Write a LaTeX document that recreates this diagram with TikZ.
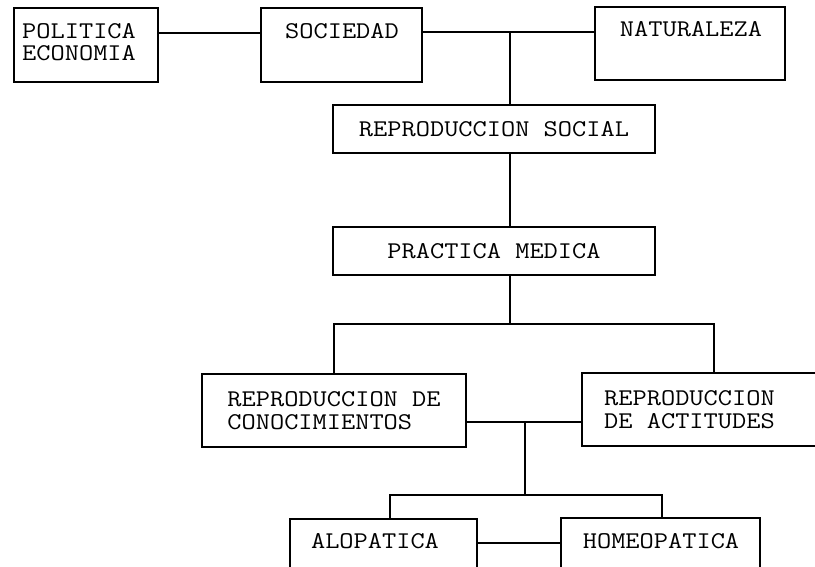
\documentclass[tikz,border=0pt]{standalone}
\usepackage{fontspec}
\newfontfamily\tw{Latin Modern Mono}[FakeStretch=1.15]
\begin{document}
\begin{tikzpicture}[x=1pt,y=-1pt,
  box/.style={draw, line width=1.2pt, inner sep=0pt, rectangle},
  lbl/.style={inner sep=0pt, font=\tw\fontsize{24}{22}\selectfont},
  conn/.style={line width=1.2pt}]
\useasboundingbox (0,0) rectangle (815,567);
\clip (0,0) rectangle (815,567);
% boxes
\node[box, minimum width=144pt, minimum height=74pt] (pol) at (86,45) {};
\node[box, minimum width=161pt, minimum height=74pt] (soc) at (341.5,45) {};
\node[box, minimum width=190pt, minimum height=73pt] (nat) at (690,43.5) {};
\node[box, minimum width=322pt, minimum height=48pt, font=\tw\fontsize{24}{22}\selectfont] (rs) at (494,129) {REPRODUCCION SOCIAL};
\node[box, minimum width=322pt, minimum height=48pt, font=\tw\fontsize{24}{22}\selectfont] (pm) at (494,251) {PRACTICA MEDICA};
\node[box, minimum width=264pt, minimum height=73pt, align=left, font=\tw\fontsize{24}{23}\selectfont] (con) at (334,410.5) {REPRODUCCION DE\\CONOCIMIENTOS};
\node[box, minimum width=238pt, minimum height=73pt] (act) at (701,409.5) {};
\node[box, minimum width=187pt, minimum height=76pt] (alo) at (383.5,557) {};
\node[box, minimum width=199pt, minimum height=76pt] (hom) at (660.5,556) {};
% texts
\node[lbl, anchor=west, align=left] (tpol) at (22,42) {POLITICA\\ECONOMIA};
\node[lbl] (tsoc) at (342,31) {SOCIEDAD};
\node[lbl] (tnat) at (691,29) {NATURALEZA};
\node[lbl, anchor=west, align=left, font=\tw\fontsize{24}{23}\selectfont] (tact) at (604,409.5) {REPRODUCCION\\DE ACTITUDES};
\node[lbl] (talo) at (375,541) {ALOPATICA};
\node[lbl] (thom) at (661,541) {HOMEOPATICA};
% junction coordinates
\coordinate (j0) at (210,33);
\coordinate (j1) at (510,32);
\coordinate (j2) at (510,324);
\coordinate (j3) at (714,324);
\coordinate (j4) at (525,422);
\coordinate (j5) at (525,495);
\coordinate (a1) at (390,495);
\coordinate (a2) at (662,495);
\coordinate (j6) at (520,543);
% connectors
\draw[conn] (pol.east |- j0) -- (soc.west |- j0);
\draw[conn] (soc.east |- j1) -- (nat.west |- j1);
\draw[conn] (j1) -- (j1 |- rs.north);
\draw[conn] (j1 |- rs.south) -- (j1 |- pm.north);
\draw[conn] (j2 |- pm.south) -- (j2);
\draw[conn] (con.north) |- (j3) -- (j3 |- act.north);
\draw[conn] (con.east |- j4) -- (act.west |- j4);
\draw[conn] (j4) -- (j5);
\draw[conn] (a1 |- alo.north) -- (a1) -- (a2) -- (a2 |- hom.north);
\draw[conn] (alo.east |- j6) -- (hom.west |- j6);
\end{tikzpicture}
\end{document}
